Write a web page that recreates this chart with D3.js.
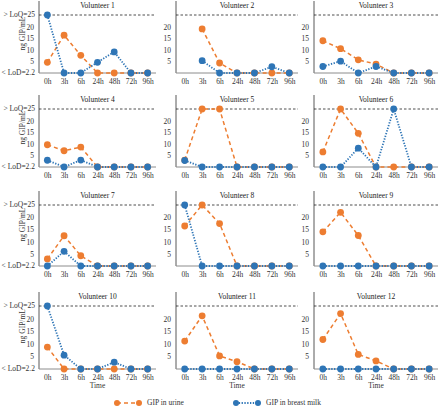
<!DOCTYPE html>
<html><head><meta charset="utf-8">
<script src="https://cdn.jsdelivr.net/npm/d3@7"></script>
<style>html,body{margin:0;padding:0;background:#fff;}svg{display:block;}</style>
</head><body>
<svg id="chart" width="440" height="409"></svg>
<script>
const times = ["0h","3h","6h","24h","48h","72h","96h"];
const volunteers = ["Volunteer 1","Volunteer 2","Volunteer 3","Volunteer 4","Volunteer 5","Volunteer 6",
  "Volunteer 7","Volunteer 8","Volunteer 9","Volunteer 10","Volunteer 11","Volunteer 12"];
const urine = [
  [4.6,16.3,7.6,0,0,0,0],
  [null,19,4.3,0,0,0,0],
  [13.9,10.5,5.7,3.8,0,0,0],
  [9.6,7.0,8.6,0,0,0,0],
  [3.0,25,25,0,0,0,0],
  [6.5,25,14.5,0,0,0,0],
  [2.9,12.4,4.2,0,0,0,0],
  [16.4,25,17.4,0,0,0,0],
  [14,22,12.5,0,0,0,0],
  [8.7,0,0,0,0,0,0],
  [11.1,21.1,5.2,2.9,0,0,0],
  [11.7,22,5.8,3.2,0,0,0]
];
const milk = [
  [25,0,0,4.6,9.1,0,0],
  [null,5.3,0,0,0,2.7,0],
  [2.8,5.1,0,2.8,0,0,0],
  [2.9,0,3.0,0,0,0,0],
  [2.8,0,0,0,0,0,0],
  [0,0,8.1,0,25,0,0],
  [0,6.0,0,0,0,0,0],
  [25,0,0,0,0,0,0],
  [0,0,0,0,0,0,0],
  [25,5.5,0,0,2.7,0,0],
  [0,0,0,0,0,0,0],
  [0,0,0,0,0,0,0]
];
const yTicks = [5,10,15,20];
const loq = 25;
const loqLabel = "> LoQ=25";
const lodLabel = "< LoD=2.2";
const yTitle = "ng GIP/mL";
const xTitle = "Time";
const seriesNames = ["GIP in urine","GIP in breast milk"];

// layout
const colX = [[39,156],[176,298],[314,438]];
const rowY = [[15,73],[109,167],[205,266],[306,369]]; // [LoQ y, baseline y]
const FONT = "'Liberation Serif','Times New Roman',serif";
const FS = 7.5;
const cUrine = "#ED7D31", cMilk = "#2E75B6";

const svg = d3.select("#chart");

volunteers.forEach((name, i) => {
  const c = i % 3, r = Math.floor(i / 3);
  const [x0, x1] = colX[c];
  const [yq, yb] = rowY[r];
  const x = d3.scalePoint().domain(times).range([x0, x1]).padding(0.5);
  const y = d3.scaleLinear().domain([0, loq]).range([yb, yq]);
  const g = svg.append("g");

  // y axis line
  g.append("line").attr("x1", x0).attr("x2", x0).attr("y1", yq - 14).attr("y2", yb)
    .attr("stroke", "#595959").attr("stroke-width", 1);
  // x axis line
  g.append("line").attr("x1", x0).attr("x2", x1).attr("y1", yb).attr("y2", yb)
    .attr("stroke", "#8c8c8c").attr("stroke-width", 1);
  // LoQ dashed line
  g.append("line").attr("x1", x0).attr("x2", x1).attr("y1", y(loq)).attr("y2", y(loq))
    .attr("stroke", "#222").attr("stroke-width", 0.8).attr("stroke-dasharray", "2.5,2");

  // y tick labels
  const yAxis = d3.axisLeft(y).tickValues(yTicks).tickSize(0).tickPadding(5);
  const ya = g.append("g").attr("transform", `translate(${x0},0)`).call(yAxis);
  ya.select(".domain").remove();
  ya.selectAll("text").attr("font-family", FONT).attr("font-size", FS).attr("fill", "#333");

  if (c === 0) {
    g.append("text").attr("x", x0 - 4).attr("y", y(loq)).attr("dy", "0.32em")
      .attr("text-anchor", "end").attr("font-family", FONT).attr("font-size", FS).attr("fill", "#333")
      .text(loqLabel);
    g.append("text").attr("x", x0 - 4).attr("y", y(0)).attr("dy", "0.32em")
      .attr("text-anchor", "end").attr("font-family", FONT).attr("font-size", FS).attr("fill", "#333")
      .text(lodLabel);
    const cy = yq + (yb - yq) * 0.32;
    g.append("text").attr("transform", `translate(24.5,${cy}) rotate(-90)`)
      .attr("text-anchor", "middle").attr("font-family", FONT).attr("font-size", FS).attr("fill", "#333")
      .text(yTitle);
  }

  // x tick labels
  const xAxis = d3.axisBottom(x).tickSize(0).tickPadding(6);
  const xa = g.append("g").attr("transform", `translate(0,${yb})`).call(xAxis);
  xa.select(".domain").remove();
  xa.selectAll("text").attr("font-family", FONT).attr("font-size", FS).attr("fill", "#333");

  // title
  g.append("text").attr("x", (x0 + x1) / 2).attr("y", yq - 7)
    .attr("text-anchor", "middle").attr("font-family", FONT).attr("font-size", FS).attr("fill", "#222")
    .text(name);

  if (r === 3) {
    g.append("text").attr("x", (x0 + x1) / 2).attr("y", yb + 19)
      .attr("text-anchor", "middle").attr("font-family", FONT).attr("font-size", FS).attr("fill", "#333")
      .text(xTitle);
  }

  const line = d3.line().defined(d => d != null).x((d, j) => x(times[j])).y(d => y(d));
  const series = [
    {vals: urine[i], color: cUrine, dash: "4,3", w: 1.5},
    {vals: milk[i], color: cMilk, dash: "1.3,1.5", w: 1.8}
  ];
  series.forEach(s => {
    g.append("path").datum(s.vals).attr("d", line).attr("fill", "none")
      .attr("stroke", s.color).attr("stroke-width", s.w).attr("stroke-dasharray", s.dash);
  });
  series.forEach(s => {
    g.selectAll(null).data(s.vals.map((v, j) => ({v, t: times[j]})).filter(d => d.v != null))
      .enter().append("circle")
      .attr("cx", d => x(d.t)).attr("cy", d => y(d.v)).attr("r", 3.4).attr("fill", s.color);
  });
});

// legend
const leg = svg.append("g");
const legItems = [
  {name: seriesNames[0], color: cUrine, dash: "4,3", w: 1.5, x: 117},
  {name: seriesNames[1], color: cMilk, dash: "1.3,1.5", w: 1.8, x: 236}
];
const ly = 403;
legItems.forEach(it => {
  leg.append("line").attr("x1", it.x).attr("x2", it.x + 22).attr("y1", ly).attr("y2", ly)
    .attr("stroke", it.color).attr("stroke-width", it.w).attr("stroke-dasharray", it.dash);
  [it.x, it.x + 22].forEach(cx => leg.append("circle").attr("cx", cx).attr("cy", ly).attr("r", 3).attr("fill", it.color));
  leg.append("text").attr("x", it.x + 30).attr("y", ly).attr("dy", "0.32em")
    .attr("font-family", FONT).attr("font-size", FS).attr("fill", "#333").text(it.name);
});
</script>
</body></html>
